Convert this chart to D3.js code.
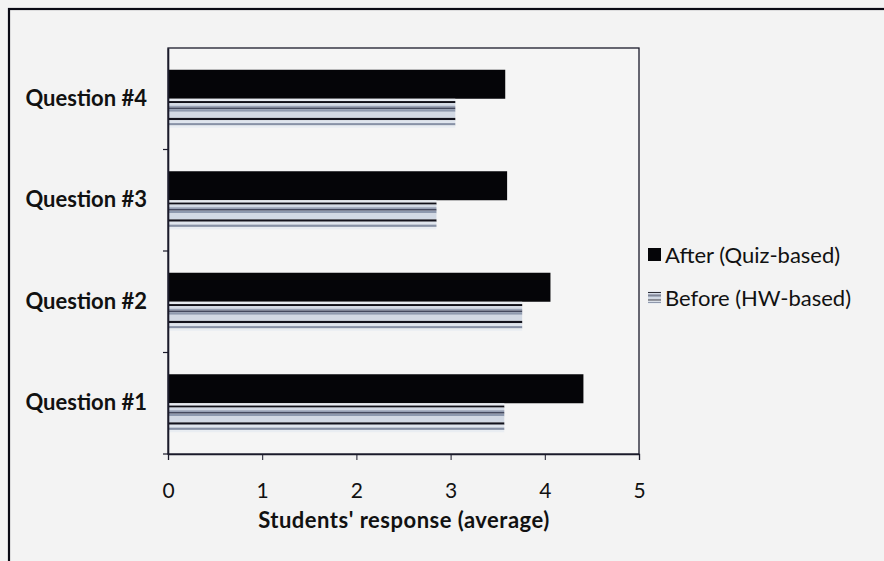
<!DOCTYPE html>
<html><head><meta charset="utf-8">
<script src="https://cdn.jsdelivr.net/npm/d3@7/dist/d3.min.js"></script>
<style>
html,body{margin:0;padding:0;background:#f3f3f3;}
svg{display:block;}
</style></head>
<body>
<script>
const categories = ["Question #1", "Question #2", "Question #3", "Question #4"];
const afterValues = [4.41, 4.06, 3.60, 3.58];
const beforeValues = [3.57, 3.76, 2.85, 3.05];
const seriesNames = ["After (Quiz-based)", "Before (HW-based)"];
const xTicks = [0, 1, 2, 3, 4, 5];
const xTitle = "Students' response (average)";

const W = 884, H = 561;
const svg = d3.select("body").append("svg").attr("width", W).attr("height", H);
svg.append("rect").attr("width", W).attr("height", H).attr("fill", "#f3f3f3");
// outer frame
svg.append("rect").attr("x", 9).attr("y", 9).attr("width", W + 20).attr("height", H + 20)
  .attr("fill", "none").attr("stroke", "#0a0a14").attr("stroke-width", 2.2);

const plot = {l: 168, t: 48, r: 639, b: 454};
const x = d3.scaleLinear().domain([0, 5]).range([plot.l, plot.r]);
const y = d3.scaleBand().domain(categories.slice().reverse()).range([plot.t, plot.b]);
const barH = y.bandwidth() / 3.5;
const font = "Lato, 'Open Sans', sans-serif";

// plot area
svg.append("rect").attr("x", plot.l).attr("y", plot.t).attr("width", plot.r - plot.l).attr("height", plot.b - plot.t)
  .attr("fill", "#f5f5f5").attr("stroke", "#1a1a2a").attr("stroke-width", 1.3);

// stripe definition (fractions of bar height)
const stripes = [
  {a: 0.00, b: 0.08, c: "#e6eaf0"},
  {a: 0.08, b: 0.15, c: "#101018"},
  {a: 0.15, b: 0.24, c: "#d4dbe6"},
  {a: 0.24, b: 0.30, c: "#98a2b6"},
  {a: 0.30, b: 0.36, c: "#44495e"},
  {a: 0.36, b: 0.45, c: "#8e99ae"},
  {a: 0.45, b: 0.66, c: "#d2d9e4"},
  {a: 0.66, b: 0.74, c: "#12121c"},
  {a: 0.74, b: 0.84, c: "#dfe5ee"},
  {a: 0.84, b: 0.92, c: "#8791a6"},
  {a: 0.92, b: 1.00, c: "#e9edf2"}
];

const g = svg.append("g");
categories.forEach((cat, i) => {
  const y0 = y(cat) + (y.bandwidth() - 2 * barH) / 2;
  g.append("rect").attr("x", x(0)).attr("y", y0).attr("width", x(afterValues[i]) - x(0)).attr("height", barH)
    .attr("fill", "#050508");
  const bg = g.append("g");
  stripes.forEach(s => {
    bg.append("rect").attr("x", x(0)).attr("y", y0 + barH + s.a * barH)
      .attr("width", x(beforeValues[i]) - x(0)).attr("height", (s.b - s.a) * barH)
      .attr("fill", s.c);
  });
});

// x axis
const xa = svg.append("g").attr("transform", `translate(0,${plot.b})`)
  .call(d3.axisBottom(x).tickValues(xTicks).tickSize(6).tickPadding(23).tickFormat(d3.format("d")));
xa.select(".domain").attr("stroke", "#1a1a2a").attr("stroke-width", 1.3);
xa.selectAll(".tick line").attr("stroke", "#1a1a2a");
xa.selectAll("text").attr("font-family", font).attr("font-size", 21).attr("fill", "#111");

// y axis
const ya = svg.append("g").attr("transform", `translate(${plot.l},0)`)
  .call(d3.axisLeft(y).tickSize(0).tickPadding(21));
ya.select(".domain").attr("stroke", "#1a1a2a").attr("stroke-width", 1.6);
ya.selectAll("text").attr("font-family", font).attr("font-size", 22).attr("font-weight", "bold").attr("fill", "#111");
// boundary ticks
const bounds = categories.map(c => y(c) + y.bandwidth());
svg.append("g").selectAll("line").data(bounds).join("line")
  .attr("x1", plot.l - 5).attr("x2", plot.l).attr("y1", d => d).attr("y2", d => d)
  .attr("stroke", "#1a1a2a").attr("stroke-width", 1.2);

// x title
svg.append("text").attr("x", 404).attr("y", 528).attr("text-anchor", "middle")
  .attr("font-family", font).attr("font-size", 22).attr("font-weight", "bold").attr("letter-spacing", 0.5).attr("fill", "#111").text(xTitle);

// legend
const lg = svg.append("g");
lg.append("rect").attr("x", 648).attr("y", 248).attr("width", 13).attr("height", 13).attr("fill", "#050508");
lg.append("text").attr("x", 665).attr("y", 263).attr("font-family", font).attr("font-size", 22).attr("fill", "#111").text(seriesNames[0]);
stripes.forEach(s => {
  lg.append("rect").attr("x", 648).attr("y", 291 + s.a * 13).attr("width", 13).attr("height", (s.b - s.a) * 13).attr("fill", s.c);
});
lg.append("text").attr("x", 665).attr("y", 306).attr("font-family", font).attr("font-size", 22).attr("fill", "#111").text(seriesNames[1]);
</script>
</body></html>
